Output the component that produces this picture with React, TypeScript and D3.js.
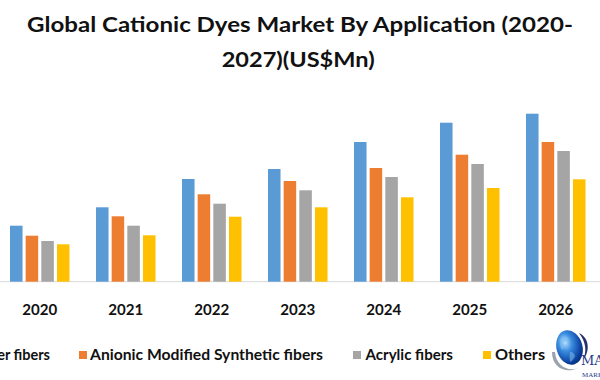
import React, { useEffect } from "react";
import * as d3 from "d3";

const years = ["2020", "2021", "2022", "2023", "2024", "2025", "2026"];
const seriesNames = [
  "Cationic Modified Polyester fibers",
  "Anionic Modified Synthetic fibers",
  "Acrylic fibers",
  "Others",
];
const polyester = [56, 74.4, 102.7, 112.7, 139.7, 159, 168];
const anionic = [46, 65.4, 87.4, 100.7, 113.7, 127, 139.7];
const acrylic = [40.7, 56, 78, 91.4, 104.7, 117.7, 130.7];
const others = [37.4, 46.4, 65, 74.4, 84.4, 93.7, 102.4];
const seriesValues = [polyester, anionic, acrylic, others];
const colors = ["#5B9BD5", "#ED7D31", "#A5A5A5", "#FFC000"];

const W = 600;
const H = 380;
const baseY = 281.7;
const font = "Lato, 'Open Sans', sans-serif";

export default function App() {
  useEffect(() => {
    document.body.style.margin = "0";
  }, []);

  const x0 = d3
    .scaleBand<string>()
    .domain(years)
    .range([-3.25, -3.25 + 86 * years.length])
    .padding(0);
  const x1 = d3
    .scaleBand<string>()
    .domain(seriesNames)
    .range([0, 59.5])
    .paddingInner(0.2)
    .paddingOuter(0);
  const groupOffset = (x0.bandwidth() - 59.5) / 2;
  const y = d3.scaleLinear().domain([0, 200]).range([baseY, baseY - 200]);

  const legend = [
    { sq: -10, tx: 50, w: 0 },
    { sq: 79, tx: 90, w: 233 },
    { sq: 353, tx: 365.5, w: 87.5 },
    { sq: 483, tx: 495, w: 50 },
  ];

  return (
    <svg
      width={W}
      height={H}
      viewBox={`0 0 ${W} ${H}`}
      style={{ position: "absolute", left: 0, top: 0, background: "#fff" }}
    >
      <defs>
        <radialGradient id="globe" cx="0.38" cy="0.32" r="0.75">
          <stop offset="0" stopColor="#bfe3ff" />
          <stop offset="0.35" stopColor="#3a8de0" />
          <stop offset="0.8" stopColor="#0b3f9e" />
          <stop offset="1" stopColor="#062a6e" />
        </radialGradient>
      </defs>
      <rect x={0} y={0} width={W} height={H} fill="#fff" />
      <g fontFamily={font} fontWeight={700} fill="#111">
        <text x={27} y={31.7} fontSize={21} textLength={546} lengthAdjust="spacingAndGlyphs">
          Global Cationic Dyes Market By Application (2020-
        </text>
        <text x={221.7} y={66.5} fontSize={21} textLength={153} lengthAdjust="spacingAndGlyphs">
          2027)(US$Mn)
        </text>
      </g>

      <line x1={0} x2={W} y1={baseY} y2={baseY} stroke="#d9d9d9" strokeWidth={1} />

      {years.map((yr, i) => (
        <g key={yr} transform={`translate(${(x0(yr) as number) + groupOffset},0)`}>
          {seriesNames.map((s, j) => {
            const v = seriesValues[j][i];
            return (
              <rect
                key={s}
                x={x1(s) as number}
                y={y(v)}
                width={x1.bandwidth()}
                height={baseY - y(v)}
                fill={colors[j]}
              />
            );
          })}
        </g>
      ))}

      <g fontFamily={font} fontWeight={700} fill="#111" fontSize={16}>
        {years.map((yr) => (
          <text
            key={yr}
            x={(x0(yr) as number) + x0.bandwidth() / 2 - 17.5}
            y={315}
            textLength={35}
            lengthAdjust="spacingAndGlyphs"
          >
            {yr}
          </text>
        ))}
      </g>

      <g fontFamily={font} fontWeight={700} fill="#111" fontSize={14.5}>
        {seriesNames.map((s, j) => (
          <g key={s}>
            <rect x={legend[j].sq} y={351} width={8} height={8} fill={colors[j]} />
            {legend[j].w > 0 ? (
              <text
                x={legend[j].tx}
                y={360}
                textLength={legend[j].w}
                lengthAdjust="spacingAndGlyphs"
              >
                {s}
              </text>
            ) : (
              <text x={legend[j].tx} y={360} textAnchor="end">
                {s}
              </text>
            )}
          </g>
        ))}
      </g>

      <g>
        <path
          d="M552,352 C552,368 566,374 578,368 C568,372 556,366 555,352 Z"
          fill="#9aa3ad"
        />
        <ellipse cx={569.5} cy={347.5} rx={13} ry={17.5} transform="rotate(-15 569.5 347.5)" fill="url(#globe)" />
        <path
          d="M561,338 q4,-3 8,0 q-2,4 -6,5 q2,4 -1,7 q-3,-4 -1,-12 Z M570,352 q4,0 5,4 q-2,5 -5,6 q-1,-5 0,-10 Z"
          fill="#7ec0f2"
          opacity={0.55}
        />
        <path
          d="M579,333 C590,338 590,352 583,360 C587,351 586,342 579,333 Z"
          fill="#2a2f6b"
        />
        <text x={581} y={365} fontFamily="'DejaVu Serif', 'Liberation Serif', serif" fontSize={13} fill="#243a8a">
          MAXIMIZE
        </text>
        <text x={582} y={376.5} fontFamily="'Liberation Serif', serif" fontSize={7} fill="#243a8a">
          MARKET
        </text>
      </g>
    </svg>
  );
}
